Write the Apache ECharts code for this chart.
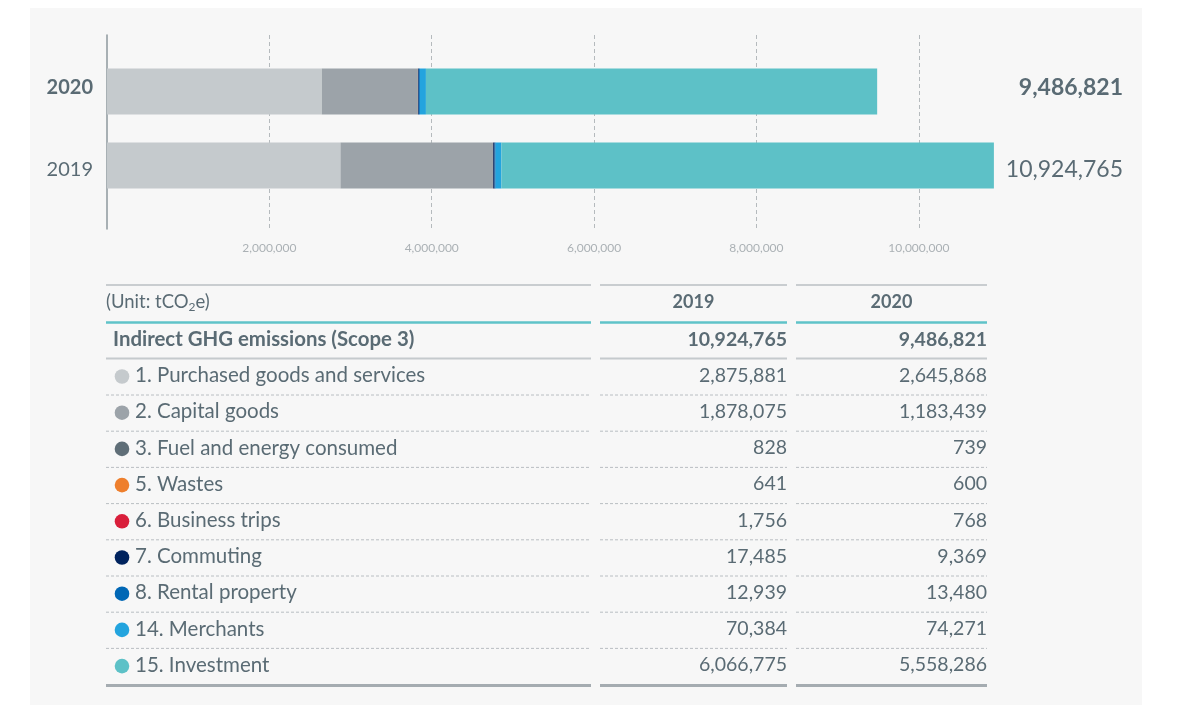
<!DOCTYPE html>
<html>
<head>
<meta charset="utf-8">
<script src="https://cdn.jsdelivr.net/npm/echarts@6/dist/echarts.min.js"></script>
<style>
  html, body { margin: 0; padding: 0; background: #ffffff; }
  #chart { width: 1179px; height: 705px; }
</style>
</head>
<body>
<div id="chart"></div>
<script>
// Scope 3 indirect GHG emissions by category (tCO2e)
const years = ['2020', '2019'];
const categories = [
  '1. Purchased goods and services',
  '2. Capital goods',
  '3. Fuel and energy consumed',
  '5. Wastes',
  '6. Business trips',
  '7. Commuting',
  '8. Rental property',
  '14. Merchants',
  '15. Investment'
];
const values2019 = [2875881, 1878075, 828, 641, 1756, 17485, 12939, 70384, 6066775];
const values2020 = [2645868, 1183439, 739, 600, 768, 9369, 13480, 74271, 5558286];
const total2019 = 10924765;
const total2020 = 9486821;
const categoryColors = ['#c5cacd', '#9ca3a9', '#5f6e77', '#ee7f2d', '#d91f3b', '#00235e', '#0067b5', '#23a4de', '#5dc1c7'];
const axisMax = 11000000;
const axisStep = 2000000;

const TEXT = '#5a6b74';
const FONT = 'Lato, "Open Sans", sans-serif';
const fmt = v => v.toLocaleString('en-US');

// ---- table drawn under the bars ----
const colSpans = [[106, 591], [600, 787], [796, 987]];
const col2019Right = 787, col2020Right = 987;
const col2019Mid = 693.5, col2020Mid = 891.5;
const rowTop = 375.5, rowStep = 36.2;

const table = [];
function hline(y, color, width, dash) {
  colSpans.forEach(([a, b]) => table.push({
    type: 'line', silent: true,
    shape: { x1: a, y1: y, x2: b, y2: y },
    style: { stroke: color, lineWidth: width, lineDash: dash || null }
  }));
}
function text(x, y, str, opts) {
  table.push({
    type: 'text', silent: true,
    style: Object.assign({
      x: x, y: y, text: str, fill: TEXT, fontFamily: FONT, fontSize: 20.5,
      align: 'left', verticalAlign: 'middle'
    }, opts || {})
  });
}

hline(285, '#c9cdd0', 2);
table.push({
  type: 'text', silent: true,
  style: {
    x: 106, y: 302, verticalAlign: 'middle', align: 'left',
    text: '{a|(Unit: tCO}{s|2}{a|e)}',
    rich: {
      a: { fontFamily: FONT, fontSize: 18.5, fill: TEXT, lineHeight: 22, verticalAlign: 'middle' },
      s: { fontFamily: FONT, fontSize: 12, fill: TEXT, lineHeight: 22, verticalAlign: 'bottom' }
    }
  }
});
text(col2019Mid, 302, years[1], { align: 'center', fontWeight: 'bold', fontSize: 18 });
text(col2020Mid, 302, years[0], { align: 'center', fontWeight: 'bold', fontSize: 18 });
hline(322.5, '#5fc3c9', 2.5);

text(113, 339.5, 'Indirect GHG emissions (Scope 3)', { fontWeight: 'bold', fontSize: 20.4 });
text(col2019Right, 339.5, fmt(total2019), { align: 'right', fontWeight: 'bold', fontSize: 19.5 });
text(col2020Right, 339.5, fmt(total2020), { align: 'right', fontWeight: 'bold', fontSize: 19.5 });
hline(358.5, '#c5cacd', 2);

categories.forEach((name, i) => {
  const y = rowTop + i * rowStep;
  table.push({
    type: 'circle', silent: true,
    shape: { cx: 122, cy: y + 1, r: 7.3 },
    style: { fill: categoryColors[i] }
  });
  text(135, y, name);
  text(col2019Right, y, fmt(values2019[i]), { align: 'right', fontSize: 19.5 });
  text(col2020Right, y, fmt(values2020[i]), { align: 'right', fontSize: 19.5 });
  if (i < categories.length - 1) {
    hline(y + 19.5, '#b9bec2', 1, [3, 2]);
  }
});
hline(rowTop + (categories.length - 1) * rowStep + 20.5, '#a5acb1', 3);

// ---- chart ----
const chart = echarts.init(document.getElementById('chart'), null, { renderer: 'canvas' });

const barSeries = categories.map((name, i) => ({
  name: name,
  type: 'bar',
  stack: 'scope3',
  xAxisIndex: 1,
  yAxisIndex: 1,
  barWidth: 46,
  silent: true,
  itemStyle: { color: categoryColors[i] },
  data: [values2020[i], values2019[i]]
}));

const yearTotals = [total2020, total2019];

chart.setOption({
  backgroundColor: '#ffffff',
  animation: false,
  graphic: [
    {
      type: 'rect', silent: true, z: -100,
      shape: { x: 30, y: 8, width: 1112, height: 700 },
      style: { fill: '#f7f7f7' }
    }
  ].concat(table),
  grid: [
    // frame: axis line, dashed gridlines, tick labels
    { left: 107, right: 179, top: 35, height: 194 },
    // bars
    { left: 107, right: 179, top: 54.5, height: 148 }
  ],
  xAxis: [
    {
      gridIndex: 0, type: 'value', min: 0, max: axisMax, interval: axisStep,
      axisLine: { show: false }, axisTick: { show: false },
      axisLabel: {
        show: true, margin: 13, color: '#abb1b5', fontSize: 12, fontFamily: FONT,
        showMinLabel: false, showMaxLabel: false,
        formatter: v => fmt(v)
      },
      splitLine: {
        show: true, showMinLine: false, showMaxLine: false,
        lineStyle: { color: '#b5babd', width: 1, type: [4, 3] }
      }
    },
    {
      gridIndex: 1, type: 'value', min: 0, max: axisMax, interval: axisStep, show: false
    }
  ],
  yAxis: [
    {
      gridIndex: 0, type: 'value', min: 0, max: 1,
      axisLine: { show: true, lineStyle: { color: '#8e989e', width: 1.5 } },
      axisTick: { show: false }, axisLabel: { show: false }, splitLine: { show: false }
    },
    {
      gridIndex: 1, type: 'category', data: years, inverse: true,
      axisLine: { show: false }, axisTick: { show: false }, splitLine: { show: false },
      axisLabel: {
        margin: 14,
        formatter: (v, i) => (i === 0 ? '{b|' + v + '}' : '{r|' + v + '}'),
        rich: {
          b: { fontFamily: FONT, fontSize: 20, fontWeight: 'bold', color: TEXT, padding: [0, 0, 7, 0] },
          r: { fontFamily: FONT, fontSize: 20, color: TEXT, padding: [9, 0, 0, 0] }
        }
      }
    },
    {
      gridIndex: 1, type: 'category', data: years, inverse: true, position: 'right',
      axisLine: { show: false }, axisTick: { show: false }, splitLine: { show: false },
      axisLabel: {
        margin: 123, align: 'right',
        formatter: (v, i) => (i === 0 ? '{b|' + fmt(yearTotals[i]) + '}' : '{r|' + fmt(yearTotals[i]) + '}'),
        rich: {
          b: { fontFamily: FONT, fontSize: 23, fontWeight: 'bold', color: TEXT, padding: [0, 0, 7, 0] },
          r: { fontFamily: FONT, fontSize: 23, color: TEXT, padding: [9, 0, 0, 0] }
        }
      }
    }
  ],
  series: barSeries
});
</script>
</body>
</html>
